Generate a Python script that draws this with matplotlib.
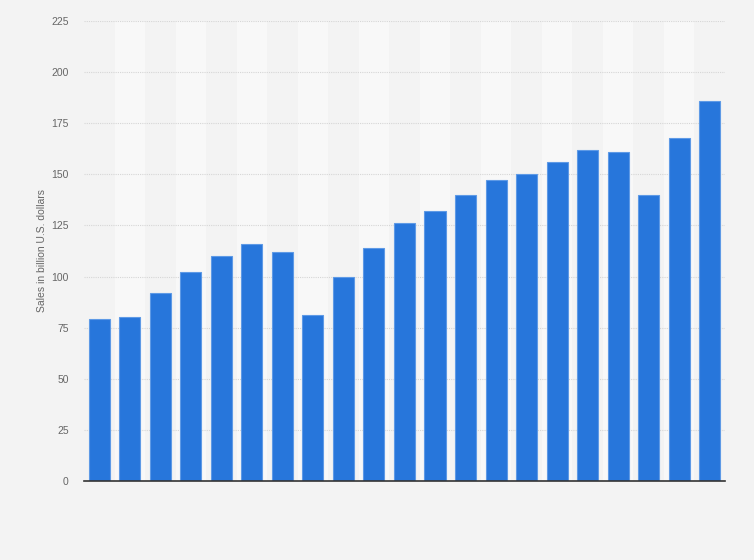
import matplotlib
matplotlib.use("Agg")
from matplotlib import pyplot as plt

plt.rcParams['font.family'] = ['Liberation Sans', 'DejaVu Sans']

# sales in billion U.S. dollars, one bar per year (no x labels in the original)
valores = [79, 80, 92, 102, 110, 116, 112, 81, 100, 114, 126,
           132, 140, 147, 150, 156, 162, 161, 140, 168, 186]
marcas_y = [0, 25, 50, 75, 100, 125, 150, 175, 200, 225]

fondo = '#f3f3f3'
banda = '#f8f8f8'
azul = '#2776db'

fig = plt.figure(figsize=(7.54, 5.6), dpi=100, facecolor=fondo)
ax = fig.add_axes([0.1114, 0.1411, 0.8501, 0.8214])
ax.set_facecolor(fondo)

x = list(range(len(valores)))

# alternating column bands
for i in x:
    if i % 2 == 1:
        ax.axvspan(i - 0.5, i + 0.5, color=banda, zorder=0, lw=0)

ax.bar(x, valores, width=0.69, color=azul, edgecolor='#5e9ae6',
       linewidth=0.8, zorder=3)

ax.set_xlim(-0.5, len(valores) - 0.5)
ax.set_ylim(0, 225)
ax.set_yticks(marcas_y)
ax.set_xticks([])
ax.yaxis.grid(True, color='#d6d6d6', linestyle=(0, (1, 1)), linewidth=0.8, zorder=1)
ax.set_axisbelow(True)

for lado in ['top', 'right', 'left']:
    ax.spines[lado].set_visible(False)
ax.spines['bottom'].set_color('#333333')
ax.spines['bottom'].set_linewidth(1.2)
ax.spines['bottom'].set_zorder(4)

ax.tick_params(axis='y', length=0, pad=11, labelsize=7.5, labelcolor='#666666')
ax.set_ylabel('Sales in billion U.S. dollars', fontsize=7.5, color='#666666',
              labelpad=3)

fig.savefig('out.png', dpi=100, facecolor=fondo)
